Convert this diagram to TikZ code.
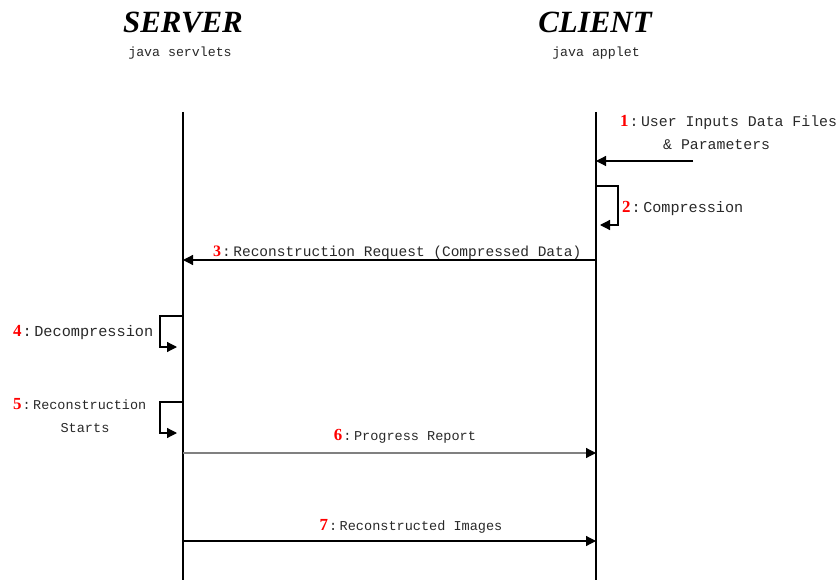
\documentclass[tikz,border=0pt]{standalone}
\usepackage{fontspec}
\setmainfont{Liberation Serif}
\newfontfamily\monofont{Liberation Mono}
\usetikzlibrary{arrows.meta}
\definecolor{numred}{RGB}{255,0,0}
\definecolor{msggray}{RGB}{128,128,128}
\definecolor{txt}{RGB}{40,40,40}
% red step number and colon in front of each message label
\newcommand\stepno[2][17]{{\rmfamily\fontsize{#1}{#1}\selectfont\bfseries\color{numred}#2}\kern1bp:\kern2.5bp}
\begin{document}
\begin{tikzpicture}[x=1bp,y=-1bp,
  lifeline/.style={line width=1.1bp},
  tip/.style={-{Triangle[length=10bp,width=10bp]}},
  msg/.style={line width=1.2bp,tip},
  title/.style={font=\fontsize{31}{31}\selectfont\bfseries\itshape,anchor=base,inner sep=0},
  sub/.style={font=\monofont\fontsize{13.3}{14}\selectfont,text=txt,anchor=base,inner sep=0},
  lbl/.style={font=\monofont\fontsize{#1}{#1}\selectfont,text=txt,anchor=base west,inner sep=0},
  lbl/.default=15,
  clbl/.style={font=\monofont\fontsize{#1}{#1}\selectfont,text=txt,anchor=base,inner sep=0},
  clbl/.default=13.6,
]
\useasboundingbox (0,0) rectangle (839,580);

% headings
\node[title] (server) at (183,33) {SERVER};
\node[sub]   (servlets) at (180,57) {java servlets};
\node[title] (client) at (595,33) {CLIENT};
\node[sub]   (applet) at (596,57) {java applet};

% lifelines
\coordinate (srvtop) at (183,112);
\coordinate (srvbot) at (183,580);
\coordinate (clitop) at (596,112);
\coordinate (clibot) at (596,580);
\draw[lifeline] (srvtop) -- (srvbot);
\draw[lifeline] (clitop) -- (clibot);

% 1: user input
\coordinate (m1s) at (693,161);
\coordinate (m1e) at (596,161);
\draw[msg] (m1s) -- (m1e);
\node[lbl=14.9] (l1a) at (620,126.5) {\stepno{1}User Inputs Data Files};
\node[lbl=14.9] (l1b) at (663,150) {\& Parameters};

% 2: compression (self call on client)
\coordinate (m2s) at (596,186);
\coordinate (m2e) at (600,225);
\draw[msg] (m2s) -- (618,186) |- (m2e);
\node[lbl=15.2] (l2) at (622,213) {\stepno{2}Compression};

% 3: request to server
\coordinate (m3s) at (596,260);
\coordinate (m3e) at (183,260);
\draw[msg] (m3s) -- (m3e);
\node[lbl=14.55] (l3) at (213,256) {\stepno[16]{3}Reconstruction Request (Compressed Data)};

% 4: decompression (self call on server)
\coordinate (m4s) at (183,316);
\coordinate (m4e) at (177,347);
\draw[msg] (m4s) -- (160,316) |- (m4e);
\node[lbl=15.3] (l4) at (13,336) {\stepno{4}Decompression};

% 5: reconstruction starts (self call on server)
\coordinate (m5s) at (183,402);
\coordinate (m5e) at (177,433);
\draw[msg] (m5s) -- (160,402) |- (m5e);
\node[lbl=13.5] (l5a) at (13,409) {\stepno{5}Reconstruction};
\node[clbl] (l5b) at (85,432) {Starts};

% 6: progress report
\coordinate (m6s) at (183,453);
\coordinate (m6e) at (596,453);
\draw[line width=1.2bp,draw=msggray,-{Triangle[length=10bp,width=10bp,color=black]}] (m6s) -- (m6e);
\node[clbl] (l6) at (405,440) {\stepno{6}Progress Report};

% 7: reconstructed images
\coordinate (m7s) at (183,541);
\coordinate (m7e) at (596,541);
\draw[msg] (m7s) -- (m7e);
\node[clbl] (l7) at (411,530) {\stepno{7}Reconstructed Images};
\end{tikzpicture}
\end{document}
